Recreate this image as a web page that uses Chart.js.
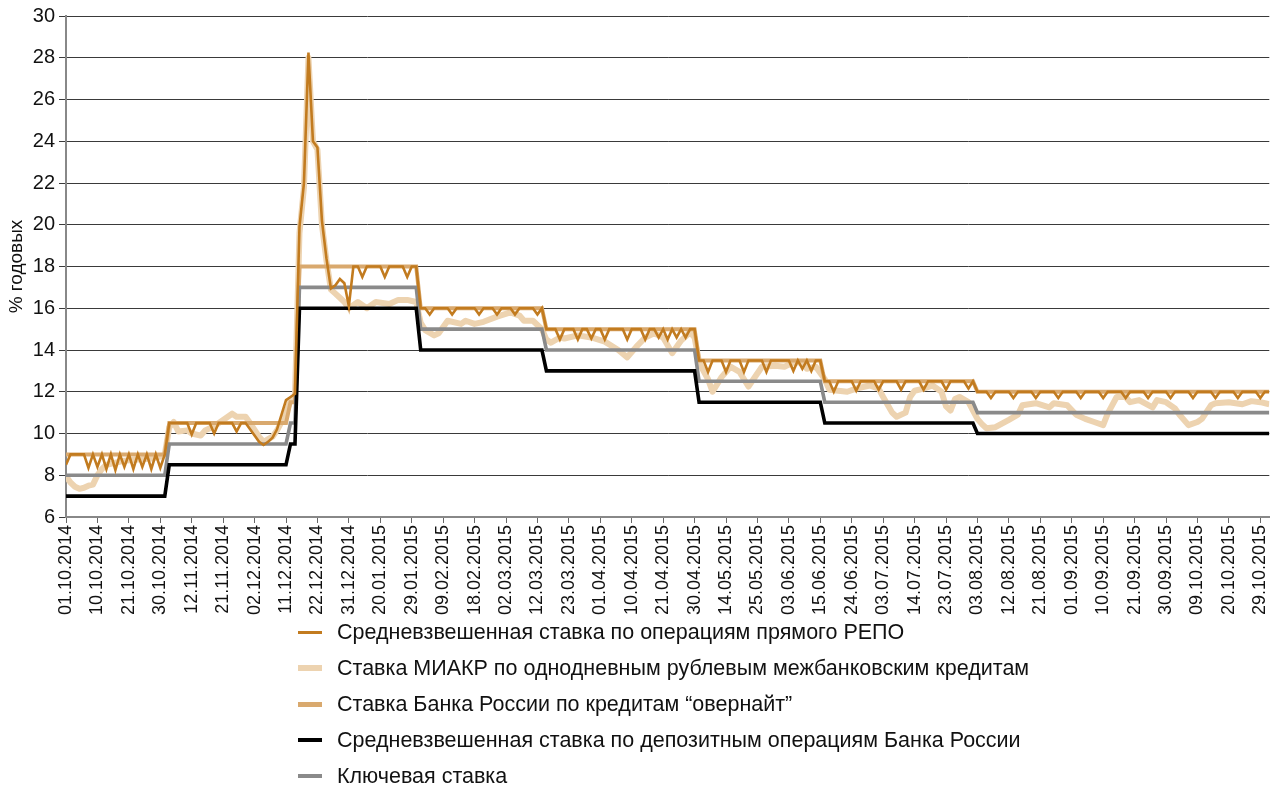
<!DOCTYPE html>
<html lang="ru">
<head>
<meta charset="utf-8">
<title>Ставки денежного рынка</title>
<script src="https://cdn.jsdelivr.net/npm/chart.js@4/dist/chart.umd.min.js"></script>
<style>
  html, body { margin: 0; padding: 0; background: #fff; }
  #wrap { position: relative; width: 1284px; height: 789px; }
  #chart { position: absolute; left: 0; top: 0; }
  #legend {
    position: absolute; left: 298px; top: 614px;
    font-family: "Liberation Sans", Arial, Helvetica, sans-serif;
    font-size: 21.5px; color: #111;
  }
  #legend .row { display: flex; align-items: center; height: 36px; white-space: nowrap; }
  #legend .mark { display: inline-block; width: 24px; margin-right: 15px; }
</style>
</head>
<body>
<div id="wrap">
  <canvas id="chart" width="1284" height="620"></canvas>
  <div id="legend"></div>
</div>
<script>
// x axis: working-day index, labelled every 7th day
const tickLabels = [
  '01.10.2014', '10.10.2014', '21.10.2014', '30.10.2014', '12.11.2014', '21.11.2014',
  '02.12.2014', '11.12.2014', '22.12.2014', '31.12.2014', '20.01.2015', '29.01.2015',
  '09.02.2015', '18.02.2015', '02.03.2015', '12.03.2015', '23.03.2015', '01.04.2015',
  '10.04.2015', '21.04.2015', '30.04.2015', '14.05.2015', '25.05.2015', '03.06.2015',
  '15.06.2015', '24.06.2015', '03.07.2015', '14.07.2015', '23.07.2015', '03.08.2015',
  '12.08.2015', '21.08.2015', '01.09.2015', '10.09.2015', '21.09.2015', '30.09.2015',
  '09.10.2015', '20.10.2015', '29.10.2015'
];
const lastDay = 268;

// Ключевая ставка (change points)
const keyDays   = [0, 22, 23, 49, 50, 51, 52, 78, 79, 106, 107, 140, 141, 168, 169, 202, 203, 268];
const keyValues = [8, 8, 9.5, 9.5, 10.5, 10.5, 17, 17, 15, 15, 14, 14, 12.5, 12.5, 11.5, 11.5, 11, 11];

// Средневзвешенная ставка по депозитным операциям
const depDays   = [0, 22, 23, 49, 50, 51, 52, 78, 79, 106, 107, 140, 141, 168, 169, 202, 203, 268];
const depValues = [7, 7, 8.5, 8.5, 9.5, 9.5, 16, 16, 14, 14, 13, 13, 11.5, 11.5, 10.5, 10.5, 10, 10];

// Ставка "овернайт"
const onDays   = [0, 22, 23, 49, 50, 51, 52, 78, 79, 106, 107, 140, 141, 168, 169, 202, 203, 268];
const onValues = [9, 9, 10.5, 10.5, 11.5, 11.5, 18, 18, 16, 16, 15, 15, 13.5, 13.5, 12.5, 12.5, 12, 12];

// Средневзвешенная ставка РЕПО
const repoDays = [
  0, 1, 4, 5, 6, 7, 8, 9, 10, 11, 12, 13, 14, 15, 16, 17, 18, 19, 20, 21, 22,
  23, 27, 28, 29, 32, 33, 34, 37, 38, 39, 40, 41, 42, 43, 44, 45, 46, 47, 48, 49, 50, 51,
  52, 53, 54, 55, 56, 57, 58, 59, 60, 61, 62, 63,
  64, 65, 66, 67, 70, 71, 72, 75, 76, 77, 78,
  79, 80, 81, 82, 85, 86, 87, 91, 92, 93, 95, 96, 97, 99, 100, 101, 104, 105, 106,
  107, 109, 110, 111, 113, 114, 115, 116, 117, 118, 119, 120, 121, 124, 125, 126, 128, 129, 130,
  131, 132, 133, 134, 135, 136, 137, 138, 139, 140,
  141, 142, 143, 144, 146, 147, 148, 150, 151, 152, 155, 156, 157, 161, 162, 163, 164, 165, 166, 167, 168,
  169, 170, 171, 172, 175, 176, 177, 180, 181, 182, 185, 186, 187, 190, 191, 192, 195, 196, 197, 200, 201, 202,
  203, 205, 206, 207, 210, 211, 212, 215, 216, 217, 220, 221, 222, 225, 226, 227, 230, 231, 232,
  235, 236, 237, 240, 241, 242, 245, 246, 247, 250, 251, 252, 255, 256, 257, 260, 261, 262, 265, 266, 267, 268
];
const repoValues = [
  8.5, 9, 9, 8.35, 9, 8.4, 9, 8.3, 9, 8.25, 9, 8.4, 9, 8.3, 9, 8.4, 9, 8.3, 9, 8.35, 9,
  10.5, 10.5, 9.95, 10.5, 10.5, 10.0, 10.5, 10.5, 10.1, 10.5, 10.5, 10.2, 9.9, 9.6, 9.45, 9.6, 9.8, 10.2, 10.9, 11.6, 11.75, 11.9,
  19.9, 22.0, 28.25, 24.0, 23.7, 20.2, 18.4, 16.95, 17.1, 17.4, 17.2, 16.1,
  18, 18, 17.5, 18, 18, 17.5, 18, 18, 17.5, 18, 18,
  16, 16, 15.7, 16, 16, 15.7, 16, 16, 15.7, 16, 16, 15.7, 16, 16, 15.7, 16, 16, 15.7, 16,
  15, 15, 14.5, 15, 15, 14.5, 15, 15, 14.55, 15, 15, 14.5, 15, 15, 14.5, 15, 15, 14.5, 15,
  15, 14.6, 15, 14.5, 15, 14.6, 15, 14.6, 15, 15,
  13.5, 13.5, 12.95, 13.5, 13.5, 12.95, 13.5, 13.5, 12.95, 13.5, 13.5, 12.95, 13.5, 13.5, 13.0, 13.5, 13.1, 13.5, 13.0, 13.5, 13.5,
  12.5, 12.5, 12.0, 12.5, 12.5, 12.05, 12.5, 12.5, 12.1, 12.5, 12.5, 12.1, 12.5, 12.5, 12.1, 12.5, 12.5, 12.1, 12.5, 12.5, 12.15, 12.5,
  12, 12, 11.7, 12, 12, 11.7, 12, 12, 11.7, 12, 12, 11.7, 12, 12, 11.7, 12, 12, 11.7, 12,
  12, 11.7, 12, 12, 11.7, 12, 12, 11.7, 12, 12, 11.7, 12, 12, 11.7, 12, 12, 11.7, 12, 12, 11.7, 12, 12
];

// Ставка МИАКР
const miakrDays = [
  0, 1, 2, 3, 4, 5, 6, 7, 8, 9, 11, 13, 16, 19, 21, 22,
  23, 24, 25, 27, 28, 30, 31, 33, 35, 37, 38, 40, 41, 43, 44, 46, 47, 49, 50, 51,
  52, 53, 54, 55, 56, 57, 58, 59, 60, 61, 62, 63, 65, 67, 69, 72, 74, 76, 78,
  79, 80, 82, 83, 85, 88, 89, 91, 93, 96, 99, 101, 102, 104, 105, 106,
  107, 108, 110, 111, 114, 117, 120, 123, 125, 127, 129, 131, 133, 135, 137, 139, 140,
  141, 143, 144, 146, 148, 150, 152, 155, 158, 160, 162, 164, 165, 167, 168,
  169, 170, 172, 174, 176, 179, 181, 182, 184, 185, 187, 188, 189, 191, 193, 195, 196, 197, 198, 199, 201, 202,
  203, 204, 205, 207, 210, 212, 213, 216, 219, 220, 223, 225, 227, 229, 231, 232, 234, 236, 237, 239,
  242, 243, 245, 247, 248, 250, 252, 253, 255, 256, 259, 262, 264, 266, 268
];
const miakrValues = [
  7.95, 7.65, 7.45, 7.35, 7.4, 7.5, 7.55, 8.0, 8.3, 8.5, 8.6, 8.7, 8.75, 8.8, 8.9, 9.0,
  10.3, 10.55, 10.1, 10.15, 10.0, 9.9, 10.15, 10.35, 10.65, 10.95, 10.8, 10.8, 10.5, 9.85, 9.6, 9.85, 10.15, 10.95, 11.6, 11.8,
  19.6, 21.8, 28.0, 24.0, 23.6, 20.0, 18.3, 16.9, 16.7, 16.5, 16.3, 16.0, 16.3, 16.0, 16.3, 16.2, 16.4, 16.4, 16.3,
  15.3, 14.95, 14.7, 14.8, 15.4, 15.25, 15.4, 15.25, 15.35, 15.6, 15.8, 15.65, 15.4, 15.4, 15.2, 15.0,
  14.5, 14.35, 14.6, 14.55, 14.7, 14.6, 14.4, 14.0, 13.65, 14.15, 14.6, 14.8, 14.6, 13.85, 14.45, 14.85, 14.6,
  13.4, 12.6, 12.0, 12.7, 13.2, 12.95, 12.25, 13.2, 13.25, 13.2, 13.4, 13.4, 13.1, 13.2, 12.9,
  12.6, 12.1, 12.05, 12.0, 12.15, 12.3, 12.15, 11.75, 11.0, 10.8, 11.0, 11.75, 12.05, 12.15, 12.3, 12.0, 11.3, 11.1, 11.65, 11.75, 11.5, 11.1,
  10.7, 10.45, 10.25, 10.3, 10.65, 10.9, 11.35, 11.45, 11.25, 11.45, 11.35, 10.9, 10.7, 10.55, 10.4, 10.95, 11.75, 11.75, 11.5, 11.6,
  11.25, 11.6, 11.5, 11.2, 10.9, 10.4, 10.55, 10.7, 11.35, 11.45, 11.5, 11.4, 11.55, 11.5, 11.4
];

function pts(days, values) {
  return days.map((d, i) => ({ x: d, y: values[i] }));
}

const FONT = '"Liberation Sans", Arial, Helvetica, sans-serif';

const datasets = [
  { label: 'Средневзвешенная ставка по операциям прямого РЕПО', data: pts(repoDays, repoValues),
    borderColor: '#C27B1F', borderWidth: 2.6, order: 0, legendWidth: 3 },
  { label: 'Ставка МИАКР по однодневным рублевым межбанковским кредитам', data: pts(miakrDays, miakrValues),
    borderColor: '#EDD3B0', borderWidth: 6, order: 4, borderJoinStyle: 'round', legendWidth: 6 },
  { label: 'Ставка Банка России по кредитам “овернайт”', data: pts(onDays, onValues),
    borderColor: '#D9A96E', borderWidth: 4, order: 3, legendWidth: 5 },
  { label: 'Средневзвешенная ставка по депозитным операциям Банка России', data: pts(depDays, depValues),
    borderColor: '#000000', borderWidth: 3.6, order: 1, legendWidth: 4 },
  { label: 'Ключевая ставка', data: pts(keyDays, keyValues),
    borderColor: '#8A8A8A', borderWidth: 3.6, order: 2, legendWidth: 4 }
];

const ctx = document.getElementById('chart').getContext('2d');
const chart = new Chart(ctx, {
  type: 'line',
  data: { datasets: datasets },
  options: {
    responsive: false,
    animation: false,
    devicePixelRatio: 1,
    layout: { padding: { top: 15, right: 11, left: 0, bottom: 0 } },
    elements: { point: { radius: 0 }, line: { tension: 0, fill: false } },
    plugins: { legend: { display: false }, tooltip: { enabled: false } },
    scales: {
      x: {
        type: 'linear',
        min: 0,
        max: lastDay,
        afterFit: function (scale) { scale.height = 103; },
        grid: { drawOnChartArea: false, drawTicks: true, tickLength: 6, color: '#666', lineWidth: 1 },
        border: { display: true, color: '#888', width: 2 },
        ticks: {
          stepSize: 7,
          includeBounds: false,
          autoSkip: false,
          maxRotation: 90,
          minRotation: 90,
          padding: 2,
          color: '#111',
          font: { family: FONT, size: 18 },
          callback: function (value) {
            const label = tickLabels[value / 7];
            return label === undefined ? '' : label;
          }
        }
      },
      y: {
        min: 6,
        max: 30,
        afterFit: function (scale) { scale.width = 66; },
        grid: { color: '#3a3a3a', lineWidth: 1, drawTicks: true, tickLength: 7 },
        border: { display: true, color: '#888', width: 2 },
        ticks: {
          stepSize: 2,
          padding: 4,
          color: '#111',
          font: { family: FONT, size: 20 }
        },
        title: {
          display: true,
          text: '% годовых',
          color: '#111',
          padding: { top: 5, bottom: 0 },
          font: { family: FONT, size: 19 }
        }
      }
    }
  }
});

// HTML legend, one entry per row
const legend = document.getElementById('legend');
chart.data.datasets.forEach(ds => {
  const row = document.createElement('div');
  row.className = 'row';
  const mark = document.createElement('span');
  mark.className = 'mark';
  mark.style.height = ds.legendWidth + 'px';
  mark.style.background = ds.borderColor;
  const text = document.createElement('span');
  text.textContent = ds.label;
  row.appendChild(mark);
  row.appendChild(text);
  legend.appendChild(row);
});
</script>
</body>
</html>
